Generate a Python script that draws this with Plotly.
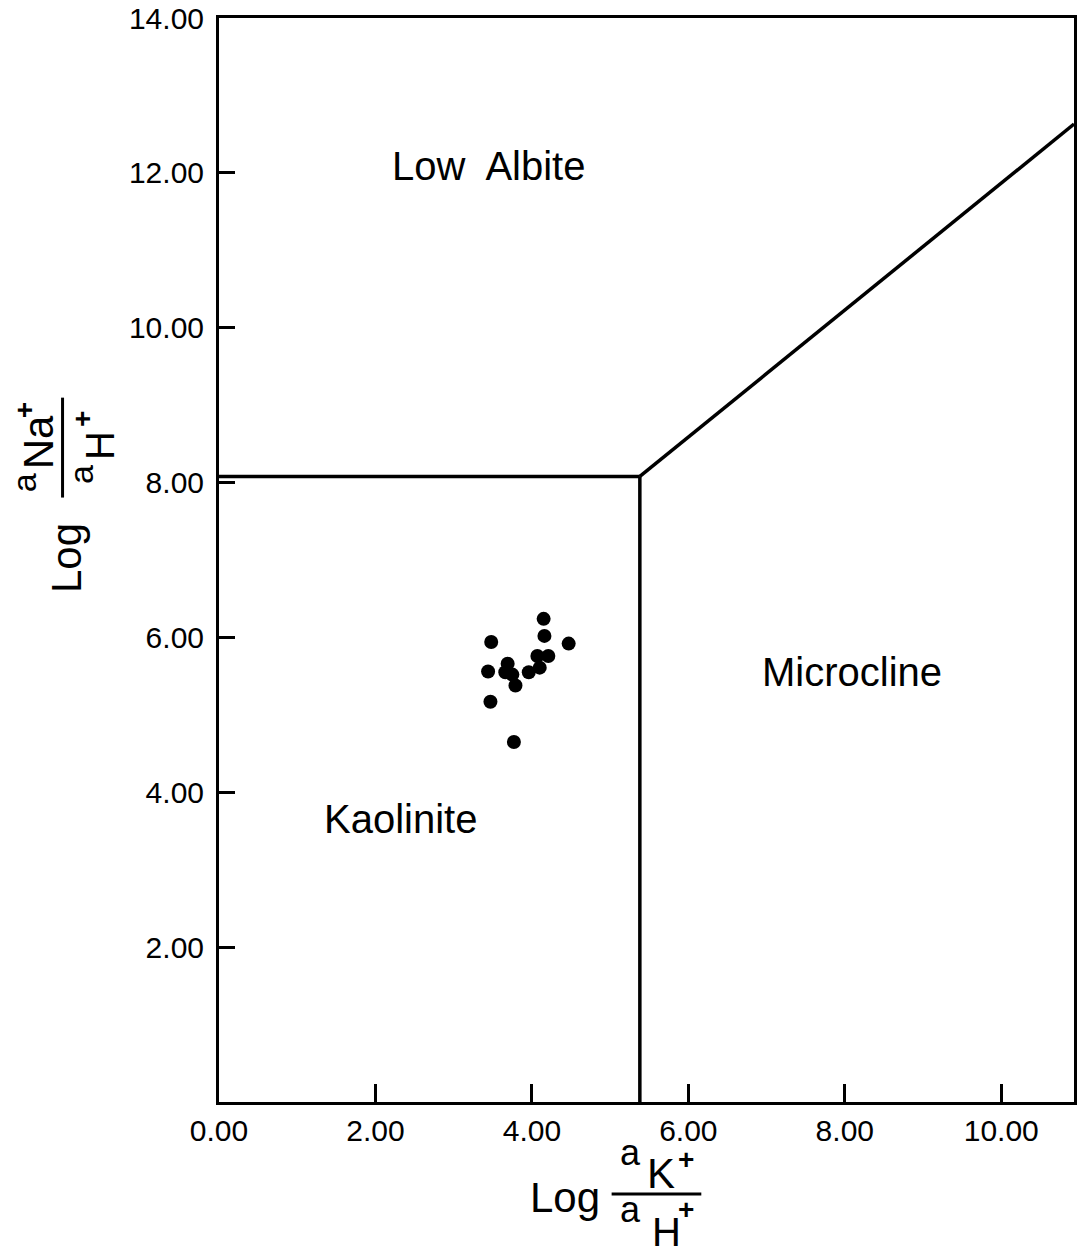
import plotly.graph_objects as go

# ---- data ----
sample_log_k = [4.15, 4.16, 4.47, 3.48, 4.07, 4.21, 4.10, 3.96, 3.69, 3.44, 3.66, 3.75, 3.79, 3.47, 3.77]
sample_log_na = [6.24, 6.02, 5.92, 5.94, 5.76, 5.76, 5.61, 5.55, 5.66, 5.56, 5.55, 5.52, 5.38, 5.17, 4.65]

albite_kaolinite_x = [0.0, 5.38]
albite_kaolinite_y = [8.08, 8.08]
kaolinite_microcline_x = [5.38, 5.38]
kaolinite_microcline_y = [0.0, 8.08]
albite_microcline_x = [5.38, 10.93]
albite_microcline_y = [8.08, 12.63]

field_names = ["Low  Albite", "Microcline", "Kaolinite"]
field_x = [3.44, 8.09, 2.32]
field_y = [12.09, 5.55, 3.66]

x_ticks = [0, 2, 4, 6, 8, 10]
x_tick_labels = ["0.00", "2.00", "4.00", "6.00", "8.00", "10.00"]
y_ticks = [2, 4, 6, 8, 10, 12, 14]
y_tick_labels = ["2.00", "4.00", "6.00", "8.00", "10.00", "12.00", "14.00"]

FONT = "Liberation Sans, Arial, sans-serif"
W, H = 1078, 1257
L, R, T, B = 219, 1, 17, 155
PW, PH = W - L - R, H - T - B


def px(x):
    return (x - L) / PW


def py(y):
    return (H - B - y) / PH


fig = go.Figure()
line_style = dict(color="black", width=3.5)
for xs, ys in [(albite_kaolinite_x, albite_kaolinite_y),
               (kaolinite_microcline_x, kaolinite_microcline_y),
               (albite_microcline_x, albite_microcline_y)]:
    fig.add_trace(go.Scatter(x=xs, y=ys, mode="lines", line=line_style,
                             showlegend=False, hoverinfo="skip"))

fig.add_trace(go.Scatter(x=sample_log_k, y=sample_log_na, mode="markers",
                         marker=dict(color="black", size=14), showlegend=False))

for name, x, y in zip(field_names, field_x, field_y):
    fig.add_annotation(x=x, y=y, text=name, showarrow=False,
                       font=dict(family=FONT, size=40, color="black"),
                       xanchor="center", yanchor="middle")


def add_txt(text, x, y, size, angle=0):
    fig.add_annotation(xref="paper", yref="paper", x=px(x), y=py(y), text=text,
                       showarrow=False, textangle=angle,
                       font=dict(family=FONT, size=size, color="black"),
                       xanchor="center", yanchor="middle", borderpad=0)


# x axis title: Log aK+/aH+
add_txt("Log", 566, 1198, 42)
add_txt("a", 632, 1153, 36)
add_txt("K", 663, 1174, 42)
add_txt("<b>+</b>", 688, 1160, 28)
add_txt("a", 632, 1210, 36)
add_txt("H", 668, 1232, 40)
add_txt("<b>+</b>", 688, 1210, 28)
fig.add_shape(type="line", xref="paper", yref="paper",
              x0=px(613), x1=px(703), y0=py(1194), y1=py(1194),
              line=dict(color="black", width=3))

# y axis title (rotated)
add_txt("Log", 66, 558, 42, -90)
add_txt("a", 23, 482, 34, -90)
add_txt("Na", 38, 442, 42, -90)
add_txt("<b>+</b>", 24, 410, 28, -90)
add_txt("a", 80, 474, 34, -90)
add_txt("H", 99, 445, 40, -90)
add_txt("<b>+</b>", 82, 418, 28, -90)
fig.add_shape(type="line", xref="paper", yref="paper",
              x0=px(62), x1=px(62), y0=py(397), y1=py(497),
              line=dict(color="black", width=3))

axis_common = dict(showgrid=False, zeroline=False, showline=True, linecolor="black",
                   linewidth=3, mirror=True, ticks="inside", tickcolor="black",
                   tickwidth=2.5, tickfont=dict(family=FONT, size=30, color="black"))

fig.update_xaxes(range=[0, 10.93], tickvals=x_ticks, ticktext=x_tick_labels,
                 ticklen=18, **axis_common)
fig.update_yaxes(range=[0, 14], tickvals=y_ticks, ticktext=y_tick_labels,
                 ticklen=16, ticklabelstandoff=6, **axis_common)

fig.update_layout(width=W, height=H, margin=dict(l=L, r=R, t=T, b=B),
                  paper_bgcolor="white", plot_bgcolor="white",
                  font=dict(family=FONT, color="black"))

fig.write_html("out.html")
